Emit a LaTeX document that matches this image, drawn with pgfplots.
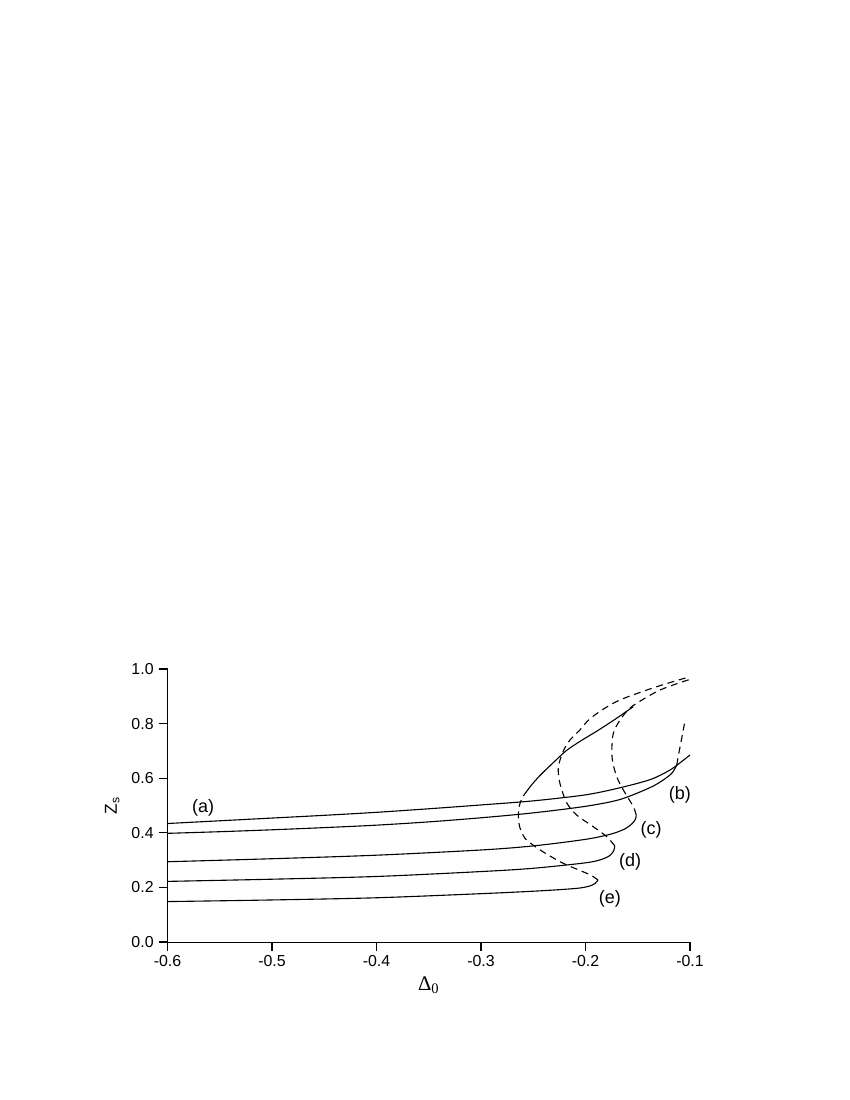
\documentclass[border=0pt]{standalone}
\usepackage{fontspec}
\setmainfont{Liberation Sans}
\newfontfamily\seriffont{Liberation Serif}
\usepackage{pgfplots}
\pgfplotsset{compat=1.18}
\begin{document}
\begin{tikzpicture}
\path (0,0) rectangle (8.5in,11in);
\begin{axis}[
  at={(1.675in,1.58in)}, anchor=south west,
  scale only axis, width=5.225in, height=2.73in,
  xmin=-0.6, xmax=-0.1, ymin=0, ymax=1,
  clip=false,
  axis x line*=bottom, axis y line*=left,
  axis line style={line width=0.7pt},
  tick align=outside, major tick length=6.5pt,
  every tick/.style={line width=0.7pt, black},
  xtick={-0.6,-0.5,-0.4,-0.3,-0.2,-0.1},
  ytick={0,0.2,0.4,0.6,0.8,1.0},
  minor tick num=0,
  ticklabel style={font=\fontsize{11.5}{13}\selectfont},
  /pgf/number format/assume math mode=true,
  xticklabel={\pgfmathprintnumber[fixed,fixed zerofill,precision=1]{\tick}},
  yticklabel={\pgfmathprintnumber[fixed,fixed zerofill,precision=1]{\tick}},
  xlabel={{\seriffont\fontsize{15}{17}\selectfont Δ\textsubscript{0}}},
  ylabel={{\fontsize{12.5}{14}\selectfont Z\textsubscript{s}}},
  xlabel style={at={(axis description cs:0.5,0)}, anchor=base, yshift=-35pt},
  ylabel style={at={(axis description cs:0,0.5)}, anchor=center, yshift=40pt},
  every axis plot/.append style={black, line width=0.8pt},
]
% (a)
\addplot[smooth] coordinates {
(-0.600,0.434) (-0.550,0.444) (-0.500,0.454) (-0.450,0.464) (-0.400,0.475)
(-0.350,0.488) (-0.300,0.502) (-0.250,0.517) (-0.200,0.539) (-0.167,0.565)
(-0.138,0.595) (-0.120,0.628) (-0.110,0.655) (-0.100,0.685)};
% (b)
\addplot[smooth] coordinates {
(-0.600,0.398) (-0.550,0.404) (-0.500,0.411) (-0.450,0.419) (-0.400,0.428)
(-0.350,0.440) (-0.300,0.455) (-0.250,0.473) (-0.200,0.497) (-0.167,0.522)
(-0.138,0.566) (-0.125,0.595) (-0.117,0.620) (-0.1127,0.648)};
\addplot[smooth, dash pattern=on 5pt off 3.5pt] coordinates {
(-0.1127,0.648) (-0.1110,0.685) (-0.1090,0.725) (-0.1070,0.765) (-0.1050,0.806)};
% (c)
\addplot[smooth] coordinates {
(-0.600,0.294) (-0.500,0.305) (-0.400,0.318) (-0.300,0.337) (-0.250,0.352)
(-0.200,0.376) (-0.175,0.396) (-0.162,0.415) (-0.155,0.435) (-0.152,0.452)
(-0.1515,0.465)};
\addplot[smooth, dash pattern=on 5pt off 3.5pt] coordinates {
(-0.1515,0.465) (-0.1543,0.496) (-0.1638,0.557) (-0.1701,0.605) (-0.1740,0.660)
(-0.1748,0.705) (-0.1734,0.764) (-0.1670,0.813) (-0.1558,0.862) (-0.1319,0.917)
(-0.1150,0.943) (-0.1000,0.962)};
% (d)
\addplot[smooth] coordinates {
(-0.600,0.222) (-0.500,0.230) (-0.400,0.240) (-0.300,0.258) (-0.250,0.270)
(-0.200,0.290) (-0.185,0.302) (-0.177,0.316) (-0.173,0.334) (-0.172,0.352)};
\addplot[smooth, dash pattern=on 5pt off 3.5pt] coordinates {
(-0.172,0.352) (-0.1797,0.386) (-0.1925,0.422) (-0.2084,0.465) (-0.2180,0.510)
(-0.2244,0.580) (-0.2260,0.640) (-0.2212,0.700) (-0.2148,0.740) (-0.2053,0.777)
(-0.1957,0.818) (-0.1800,0.860) (-0.1650,0.890) (-0.1320,0.935) (-0.1000,0.972)};
% (e)
\addplot[smooth] coordinates {
(-0.600,0.148) (-0.500,0.154) (-0.400,0.162) (-0.300,0.177) (-0.250,0.186)
(-0.220,0.193) (-0.205,0.198) (-0.196,0.205) (-0.191,0.214) (-0.188,0.227)};
\addplot[smooth, dash pattern=on 5pt off 3.5pt] coordinates {
(-0.188,0.227) (-0.1950,0.245) (-0.2053,0.262) (-0.2212,0.288) (-0.2371,0.322)
(-0.2483,0.350) (-0.2579,0.380) (-0.2630,0.422) (-0.2643,0.471) (-0.2625,0.510)
(-0.2595,0.535)};
\addplot[smooth] coordinates {
(-0.2595,0.535) (-0.2555,0.556) (-0.2510,0.578) (-0.2460,0.600) (-0.2404,0.622)
(-0.2300,0.660) (-0.2180,0.702) (-0.2040,0.738) (-0.1893,0.772) (-0.1720,0.815)
(-0.1543,0.862)};
% labels
\begin{scope}[every node/.style={font=\fontsize{13}{15}\selectfont}]
\node at (axis cs:-0.566,0.491) {(a)};
\node at (axis cs:-0.1096,0.538) {(b)};
\node at (axis cs:-0.1373,0.410) {(c)};
\node at (axis cs:-0.1574,0.293) {(d)};
\node at (axis cs:-0.1766,0.158) {(e)};
\end{scope}
\end{axis}
% tick marks drawn directly on the axis frame
\foreach \k in {0,1,2,3,4,5} {
  \draw[line width=0.75pt] ({1.675in+\k*1.045in},1.58in) -- ++(0,-6.5pt);
  \draw[line width=0.75pt] (1.675in,{1.58in+\k*0.546in}) -- ++(-6.5pt,0);
}
\end{tikzpicture}
\end{document}
